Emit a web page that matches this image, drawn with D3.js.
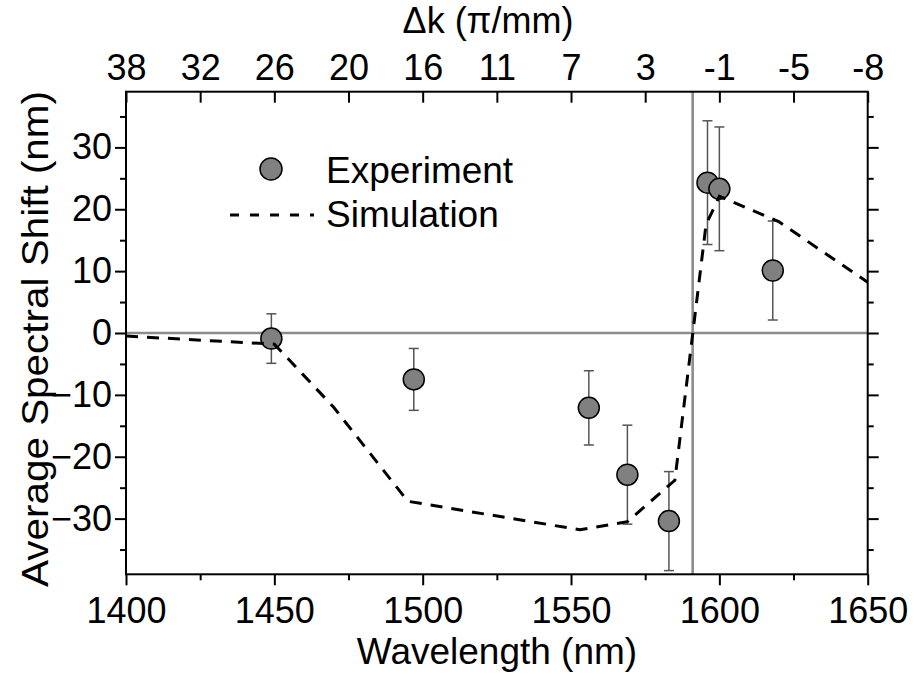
<!DOCTYPE html>
<html>
<head>
<meta charset="utf-8">
<script src="https://cdn.jsdelivr.net/npm/d3@7"></script>
<style>
  html, body { margin: 0; padding: 0; background: #fff; }
  svg { display: block; font-family: "Liberation Sans", Arial, sans-serif; }
  .axis path { display: none; }
  .axis line { stroke: #000; stroke-width: 2; }
  .axis text { font-size: 36px; fill: #000; font-family: "Liberation Sans", Arial, sans-serif; }
</style>
</head>
<body>
<svg id="chart" width="917" height="681"></svg>
<script>
// Wavelength axis ticks (nm)
const wavelengthMajor = [1400, 1450, 1500, 1550, 1600, 1650];
const wavelengthMinor = [1425, 1475, 1525, 1575, 1625];
// Shift axis ticks (nm)
const shiftMajor = [-30, -20, -10, 0, 10, 20, 30];
const shiftMinor = [-35, -25, -15, -5, 5, 15, 25, 35];
// Phase mismatch labels on the top axis, one per 25 nm step
const dkTickWavelengths = [1400, 1425, 1450, 1475, 1500, 1525, 1550, 1575, 1600, 1625, 1650];
const dkLabels = ["38", "32", "26", "20", "16", "11", "7", "3", "-1", "-5", "-8"];

// Measured average spectral shift with error bars
const expWavelength = [1449, 1497, 1556, 1569, 1583, 1596, 1600, 1618];
const expShift      = [-0.9, -7.5, -12.1, -22.9, -30.4, 24.3, 23.3, 10.1];
const expError      = [4, 5, 6, 8, 8, 10, 10, 8];

// Simulated average spectral shift
const simWavelength = [1400, 1450, 1470, 1495, 1553, 1569, 1585, 1595.5, 1600, 1620, 1650];
const simShift      = [-0.5, -1.8, -12, -27.2, -31.8, -30.5, -23.8, 17.5, 22.1, 18.0, 8.2];

// Zero phase-mismatch wavelength
const zeroDkWavelength = 1591;

const svg = d3.select("#chart");
const plotLeft = 126, plotRight = 867.7, plotTop = 91.7, plotBottom = 574.3;

const x = d3.scaleLinear().domain([1400, 1650]).range([plotLeft, plotRight]);
const y = d3.scaleLinear().domain([-39, 39]).range([plotBottom, plotTop]);

// Reference lines
svg.append("line")
  .attr("x1", plotLeft).attr("x2", plotRight)
  .attr("y1", y(0)).attr("y2", y(0))
  .attr("stroke", "#8c8c8c").attr("stroke-width", 2.6);
svg.append("line")
  .attr("x1", x(zeroDkWavelength)).attr("x2", x(zeroDkWavelength))
  .attr("y1", plotTop).attr("y2", plotBottom)
  .attr("stroke", "#8c8c8c").attr("stroke-width", 2.6);

// Bottom axis
svg.append("g").attr("class", "axis")
  .attr("transform", `translate(0,${plotBottom})`)
  .call(d3.axisBottom(x).tickValues(wavelengthMajor).tickSize(11).tickPadding(12).tickFormat(d3.format("d")))
  .selectAll("text").attr("dy", "0.71em");
svg.append("g").attr("class", "axis")
  .attr("transform", `translate(0,${plotBottom})`)
  .call(d3.axisBottom(x).tickValues(wavelengthMinor).tickSize(6).tickFormat(""));

// Top axis (ticks pointing inward)
svg.append("g").attr("class", "axis")
  .attr("transform", `translate(0,${plotTop})`)
  .call(d3.axisTop(x).tickValues(dkTickWavelengths).tickSize(-11).tickPadding(12)
    .tickFormat((d, i) => dkLabels[i]));

// Left axis
svg.append("g").attr("class", "axis")
  .attr("transform", `translate(${plotLeft},0)`)
  .call(d3.axisLeft(y).tickValues(shiftMajor).tickSize(11).tickPadding(3).tickFormat(d3.format("d")));
svg.append("g").attr("class", "axis")
  .attr("transform", `translate(${plotLeft},0)`)
  .call(d3.axisLeft(y).tickValues(shiftMinor).tickSize(6).tickFormat(""));

// Right axis
svg.append("g").attr("class", "axis")
  .attr("transform", `translate(${plotRight},0)`)
  .call(d3.axisRight(y).tickValues(shiftMajor).tickSize(11).tickFormat(""));
svg.append("g").attr("class", "axis")
  .attr("transform", `translate(${plotRight},0)`)
  .call(d3.axisRight(y).tickValues(shiftMinor).tickSize(6).tickFormat(""));

// Frame
svg.append("rect")
  .attr("x", plotLeft).attr("y", plotTop)
  .attr("width", plotRight - plotLeft).attr("height", plotBottom - plotTop)
  .attr("fill", "none").attr("stroke", "#000").attr("stroke-width", 2);

// Experiment: error bars
const expData = expWavelength.map((w, i) => ({ w, v: expShift[i], e: expError[i] }));
const bars = svg.append("g").attr("stroke", "#555").attr("stroke-width", 1.5);
expData.forEach(d => {
  const cx = x(d.w);
  bars.append("line").attr("x1", cx).attr("x2", cx).attr("y1", y(d.v + d.e)).attr("y2", y(d.v - d.e));
  bars.append("line").attr("x1", cx - 5).attr("x2", cx + 5).attr("y1", y(d.v + d.e)).attr("y2", y(d.v + d.e));
  bars.append("line").attr("x1", cx - 5).attr("x2", cx + 5).attr("y1", y(d.v - d.e)).attr("y2", y(d.v - d.e));
});

// Experiment: markers
svg.append("g").selectAll("circle").data(expData).join("circle")
  .attr("cx", d => x(d.w)).attr("cy", d => y(d.v)).attr("r", 10.5)
  .attr("fill", "#808080").attr("stroke", "#000").attr("stroke-width", 1.5);

// Simulation curve
const simData = simWavelength.map((w, i) => [w, simShift[i]]);
svg.append("path")
  .datum(simData)
  .attr("d", d3.line().x(d => x(d[0])).y(d => y(d[1])))
  .attr("fill", "none").attr("stroke", "#000").attr("stroke-width", 3)
  .attr("stroke-dasharray", "12,9");

// Legend
svg.append("circle").attr("cx", 271).attr("cy", 169).attr("r", 11)
  .attr("fill", "#808080").attr("stroke", "#000").attr("stroke-width", 1.5);
svg.append("text").attr("x", 326).attr("y", 183).attr("font-size", 37).text("Experiment");
svg.append("line").attr("x1", 230).attr("x2", 314).attr("y1", 215).attr("y2", 215)
  .attr("stroke", "#000").attr("stroke-width", 3).attr("stroke-dasharray", "9,11");
svg.append("text").attr("x", 326).attr("y", 227).attr("font-size", 37).text("Simulation");

// Axis titles
svg.append("text").attr("x", 497).attr("y", 664)
  .attr("text-anchor", "middle").attr("font-size", 37).text("Wavelength (nm)");
svg.append("text").attr("x", 488).attr("y", 33)
  .attr("text-anchor", "middle").attr("font-size", 36).text("Δk (π/mm)");
svg.append("text")
  .attr("transform", "translate(48,339) rotate(-90)")
  .attr("text-anchor", "middle").attr("font-size", 37)
  .attr("textLength", 496).attr("lengthAdjust", "spacingAndGlyphs")
  .text("Average Spectral Shift (nm)");
</script>
</body>
</html>
